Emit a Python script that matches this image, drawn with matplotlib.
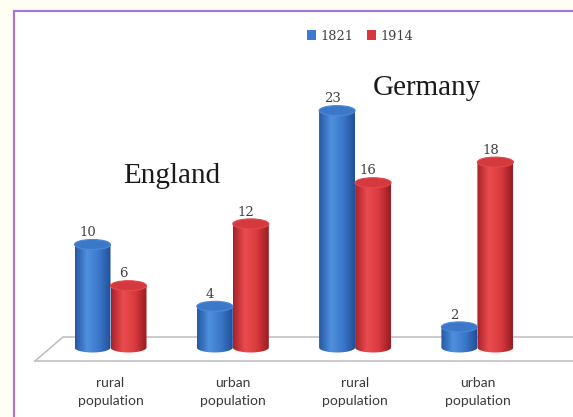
"""Rural and urban population, England and Germany, 1821 vs 1914 (3D cylinder look)."""

import numpy as np
import matplotlib.pyplot as plt
from matplotlib.patches import Ellipse, PathPatch, Patch, Rectangle
from matplotlib.path import Path
from matplotlib.colors import LinearSegmentedColormap

categories = ['rural\npopulation', 'urban\npopulation', 'rural\npopulation', 'urban\npopulation']
years = ['1821', '1914']
values_1821 = [10, 4, 23, 2]
values_1914 = [6, 12, 16, 18]
countries = ['England', 'Germany']

W, H = 573, 417
# layout in pixels: first group centre, group spacing, zero line, px per unit
x0_px, step_px = 110.5, 122.3
zero_px, unit_px = 347.5, 10.3
bar_px, ell_px = 36, 10

blue_cm = LinearSegmentedColormap.from_list('b', ['#2658a3', '#4f90de', '#3b78ca', '#215099'])
red_cm = LinearSegmentedColormap.from_list('r', ['#a82228', '#ea4c4f', '#d83a3e', '#9a1c22'])

fig = plt.figure(figsize=(W / 100, H / 100), dpi=100, facecolor='#fffef2')
# purple frame
fig.patches.append(Rectangle((14 / W, -0.1), 1.2, (H - 11) / H + 0.1, transform=fig.transFigure,
                             facecolor='white', edgecolor='#a47ad6', linewidth=1.6, zorder=-10))

ax = fig.add_axes([0, 0, 1, 1])
ax.set_axis_off()
ax.patch.set_alpha(0)
xlim = (-x0_px / step_px, (W - x0_px) / step_px)
ylim = ((zero_px - H) / unit_px, zero_px / unit_px)
w = bar_px / step_px
eh = ell_px / unit_px

# floor
fl = dict(color='#bdbdbd', lw=1.1, transform=ax.transAxes, zorder=1)
ax.plot([35 / W, 63 / W, 1.0], [1 - 361 / H, 1 - 337 / H, 1 - 337 / H], **fl)
ax.plot([35 / W, 1.0], [1 - 361 / H, 1 - 361 / H], **fl)

grad = np.linspace(0, 1, 64).reshape(1, -1)


def cylinder(xc, v, cmap, top_color):
    left, right = xc - w / 2, xc + w / 2
    th = np.linspace(np.pi, 2 * np.pi, 40)
    verts = [(left, v), (left, 0)]
    verts += list(zip(xc + w / 2 * np.cos(th), eh / 2 * np.sin(th)))
    verts += [(right, v), (left, v)]
    clip = PathPatch(Path(verts), facecolor='none', edgecolor='none')
    ax.add_patch(clip)
    im = ax.imshow(grad, cmap=cmap, aspect='auto', extent=[left, right, -eh, v],
                   interpolation='bilinear', zorder=2)
    im.set_clip_path(clip)
    ax.add_patch(Ellipse((xc, v), w, eh, facecolor=top_color, edgecolor=cmap(0.3),
                         lw=0.8, zorder=3))


for i, (a, b) in enumerate(zip(values_1821, values_1914)):
    xb, xr = i - w / 2, i + w / 2
    cylinder(xb, a, blue_cm, '#3b78c9')
    cylinder(xr, b, red_cm, '#d4393d')
    for xc, v in ((xb, a), (xr, b)):
        ax.text(xc - 5 / step_px, v + 1.15, str(v), ha='center', va='center',
                fontsize=9.5, family='DejaVu Serif', color='#404040', zorder=4)
    ax.text(i, (zero_px - 392) / unit_px, categories[i], ha='center', va='center',
            fontsize=10, family='Lato', color='#3a3a3a', linespacing=1.65)

ax.text(0.5, 16, countries[0], ha='center', va='baseline', fontsize=21,
        family='Liberation Serif', color='#1a1a1a')
ax.text(2.59, 24.5, countries[1], ha='center', va='baseline', fontsize=21,
        family='Liberation Serif', color='#1a1a1a')

handles = [Patch(facecolor='#3a7bd0'), Patch(facecolor='#d8383c')]
leg = ax.legend(handles, years, loc='center', bbox_to_anchor=(360 / W, 1 - 36 / H),
                bbox_transform=fig.transFigure, ncol=2, frameon=False,
                handlelength=0.7, handleheight=0.7, handletextpad=0.35,
                columnspacing=1.0, prop={'family': 'DejaVu Serif', 'size': 9.3})
for t in leg.get_texts():
    t.set_color('#404040')

ax.set_xlim(xlim)
ax.set_ylim(ylim)
fig.savefig('out.png', dpi=100, facecolor=fig.get_facecolor())
